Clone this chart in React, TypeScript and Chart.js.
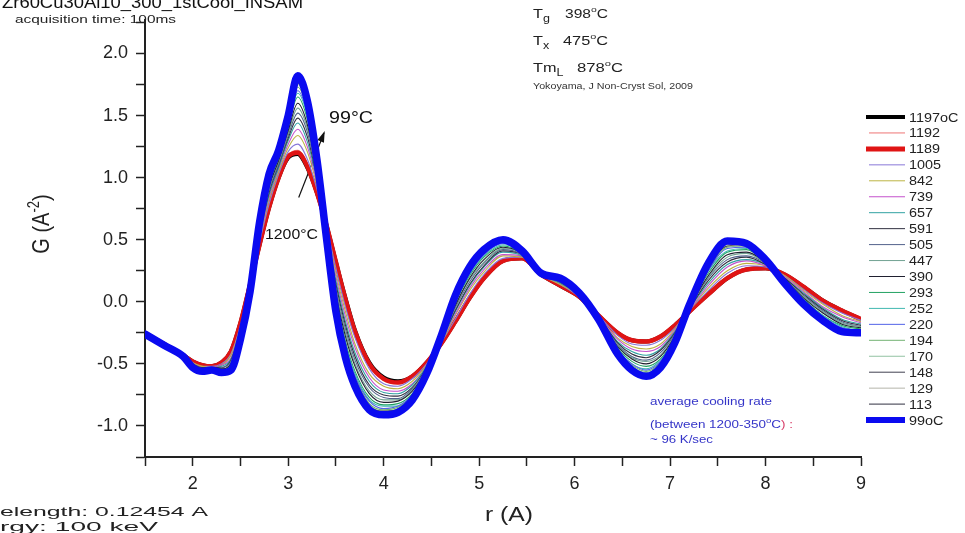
import React, { useEffect, useRef } from 'react';
import { Chart, registerables } from 'chart.js';

Chart.register(...registerables);

// r (Å) sample positions shared by every curve
const R = [1.5, 1.7, 1.9, 2.0, 2.1, 2.2, 2.3, 2.4, 2.5, 2.6, 2.7, 2.8, 2.9, 3.0, 3.1, 3.2, 3.3, 3.4, 3.5, 3.6, 3.7, 3.85, 4.0, 4.15, 4.3, 4.45, 4.6, 4.75, 4.9, 5.05, 5.25, 5.45, 5.65, 5.85, 6.05, 6.25, 6.45, 6.6, 6.75, 6.9, 7.05, 7.2, 7.4, 7.6, 7.8, 8.0, 8.2, 8.4, 8.6, 8.8, 9.0];

const G1197 = [-0.25,-0.34,-0.43,-0.48,-0.51,-0.52,-0.49,-0.40,-0.17,0.14, 0.46,0.76,1.00,1.16,1.19,1.08,0.88,0.62,0.32,0.03, -0.23,-0.49,-0.61,-0.64,-0.60,-0.49,-0.34,-0.16,0.03,0.19, 0.33,0.35,0.22,0.13,0.04,-0.11,-0.25,-0.31,-0.32,-0.28, -0.19,-0.08,0.06,0.19,0.26,0.27,0.22,0.12,0.01,-0.07,-0.14];
const G1192 = [-0.25,-0.34,-0.43,-0.48,-0.51,-0.52,-0.49,-0.40,-0.17,0.14, 0.47,0.77,1.01,1.18,1.22,1.11,0.89,0.62,0.31,0.01, -0.25,-0.51,-0.63,-0.66,-0.61,-0.49,-0.34,-0.15,0.04,0.20, 0.34,0.35,0.22,0.13,0.04,-0.11,-0.26,-0.32,-0.33,-0.29, -0.19,-0.08,0.07,0.20,0.27,0.27,0.22,0.12,0.01,-0.08,-0.14];
const G1189 = [-0.25,-0.34,-0.43,-0.48,-0.51,-0.52,-0.49,-0.40,-0.17,0.14, 0.46,0.76,1.00,1.17,1.20,1.09,0.88,0.62,0.32,0.02, -0.24,-0.50,-0.62,-0.65,-0.60,-0.49,-0.34,-0.16,0.03,0.19, 0.33,0.35,0.22,0.13,0.04,-0.11,-0.25,-0.31,-0.32,-0.28, -0.19,-0.08,0.06,0.19,0.26,0.27,0.22,0.12,0.01,-0.07,-0.14];
const G1005 = [-0.25,-0.34,-0.43,-0.49,-0.52,-0.52,-0.50,-0.42,-0.19,0.13, 0.48,0.79,1.03,1.21,1.27,1.15,0.91,0.61,0.27,-0.04, -0.29,-0.54,-0.66,-0.68,-0.62,-0.50,-0.33,-0.14,0.06,0.22, 0.35,0.36,0.22,0.14,0.04,-0.11,-0.27,-0.34,-0.35,-0.31, -0.21,-0.07,0.09,0.23,0.29,0.28,0.21,0.10,-0.01,-0.09,-0.15];
const G842 = [-0.25,-0.34,-0.43,-0.49,-0.52,-0.53,-0.51,-0.43,-0.20,0.13, 0.50,0.82,1.05,1.24,1.34,1.21,0.94,0.60,0.23,-0.08, -0.34,-0.58,-0.68,-0.70,-0.64,-0.51,-0.33,-0.11,0.09,0.24, 0.37,0.36,0.22,0.14,0.05,-0.12,-0.29,-0.36,-0.38,-0.34, -0.22,-0.07,0.11,0.25,0.31,0.29,0.21,0.09,-0.02,-0.11,-0.16];
const G739 = [-0.25,-0.34,-0.43,-0.50,-0.53,-0.53,-0.51,-0.45,-0.21,0.12, 0.51,0.84,1.07,1.27,1.39,1.25,0.96,0.59,0.20,-0.12, -0.37,-0.61,-0.71,-0.72,-0.66,-0.52,-0.32,-0.10,0.11,0.26, 0.38,0.37,0.22,0.15,0.05,-0.12,-0.30,-0.38,-0.40,-0.36, -0.23,-0.07,0.13,0.28,0.33,0.29,0.20,0.08,-0.04,-0.12,-0.17];
const G657 = [-0.25,-0.34,-0.43,-0.50,-0.53,-0.53,-0.52,-0.46,-0.22,0.12, 0.53,0.86,1.08,1.30,1.44,1.29,0.98,0.58,0.17,-0.16, -0.41,-0.64,-0.73,-0.74,-0.67,-0.52,-0.32,-0.08,0.13,0.28, 0.40,0.37,0.22,0.15,0.05,-0.12,-0.32,-0.40,-0.43,-0.38, -0.24,-0.06,0.15,0.30,0.34,0.30,0.19,0.07,-0.05,-0.14,-0.18];
const G591 = [-0.25,-0.34,-0.43,-0.50,-0.53,-0.53,-0.53,-0.47,-0.23,0.11, 0.54,0.88,1.10,1.32,1.48,1.33,1.00,0.58,0.14,-0.19, -0.44,-0.67,-0.75,-0.76,-0.69,-0.53,-0.31,-0.07,0.14,0.29, 0.41,0.38,0.22,0.16,0.05,-0.12,-0.33,-0.42,-0.45,-0.39, -0.25,-0.06,0.17,0.32,0.36,0.30,0.19,0.06,-0.06,-0.15,-0.19];
const G505 = [-0.26,-0.35,-0.44,-0.51,-0.54,-0.54,-0.53,-0.48,-0.24,0.11, 0.55,0.90,1.11,1.34,1.52,1.37,1.02,0.57,0.11,-0.22, -0.47,-0.69,-0.77,-0.78,-0.70,-0.54,-0.31,-0.05,0.16,0.31, 0.42,0.38,0.22,0.16,0.06,-0.13,-0.34,-0.44,-0.47,-0.41, -0.26,-0.05,0.19,0.34,0.37,0.31,0.18,0.05,-0.07,-0.16,-0.20];
const G447 = [-0.26,-0.35,-0.44,-0.51,-0.54,-0.54,-0.54,-0.49,-0.25,0.11, 0.56,0.92,1.13,1.36,1.56,1.40,1.04,0.56,0.09,-0.25, -0.50,-0.72,-0.79,-0.79,-0.71,-0.54,-0.31,-0.04,0.18,0.32, 0.43,0.39,0.22,0.17,0.06,-0.13,-0.35,-0.45,-0.48,-0.43, -0.27,-0.05,0.20,0.36,0.39,0.31,0.18,0.04,-0.08,-0.17,-0.20];
const G390 = [-0.26,-0.35,-0.44,-0.51,-0.54,-0.54,-0.54,-0.50,-0.25,0.10, 0.58,0.93,1.14,1.38,1.60,1.43,1.05,0.56,0.06,-0.28, -0.52,-0.74,-0.81,-0.80,-0.72,-0.55,-0.30,-0.03,0.19,0.34, 0.44,0.39,0.22,0.17,0.06,-0.13,-0.36,-0.46,-0.50,-0.44, -0.28,-0.05,0.21,0.38,0.40,0.32,0.18,0.03,-0.09,-0.18,-0.21];
const G293 = [-0.26,-0.35,-0.44,-0.52,-0.55,-0.54,-0.55,-0.51,-0.26,0.10, 0.59,0.95,1.16,1.41,1.65,1.47,1.07,0.55,0.03,-0.32, -0.56,-0.77,-0.83,-0.82,-0.74,-0.56,-0.30,-0.01,0.21,0.36, 0.45,0.39,0.22,0.17,0.06,-0.13,-0.37,-0.48,-0.52,-0.46, -0.29,-0.04,0.23,0.40,0.42,0.32,0.17,0.02,-0.11,-0.19,-0.22];
const G252 = [-0.26,-0.35,-0.44,-0.52,-0.55,-0.54,-0.55,-0.52,-0.27,0.09, 0.60,0.97,1.17,1.42,1.68,1.50,1.09,0.54,0.01,-0.34, -0.58,-0.79,-0.84,-0.84,-0.75,-0.56,-0.29,0.00,0.22,0.37, 0.46,0.40,0.22,0.18,0.06,-0.13,-0.38,-0.50,-0.54,-0.47, -0.30,-0.04,0.25,0.41,0.43,0.32,0.17,0.01,-0.11,-0.20,-0.23];
const G220 = [-0.26,-0.35,-0.44,-0.52,-0.55,-0.54,-0.56,-0.52,-0.28,0.09, 0.61,0.98,1.18,1.44,1.70,1.52,1.10,0.54,0.00,-0.36, -0.60,-0.80,-0.86,-0.84,-0.75,-0.56,-0.29,0.01,0.23,0.38, 0.47,0.40,0.22,0.18,0.06,-0.13,-0.39,-0.50,-0.55,-0.48, -0.30,-0.04,0.25,0.43,0.44,0.33,0.16,0.01,-0.12,-0.21,-0.23];
const G194 = [-0.26,-0.35,-0.44,-0.52,-0.55,-0.55,-0.56,-0.53,-0.28,0.09, 0.61,0.99,1.19,1.45,1.73,1.54,1.11,0.53,-0.02,-0.38, -0.61,-0.82,-0.87,-0.85,-0.76,-0.57,-0.29,0.02,0.24,0.39, 0.48,0.40,0.22,0.18,0.07,-0.14,-0.40,-0.51,-0.56,-0.49, -0.31,-0.04,0.26,0.44,0.45,0.33,0.16,0.00,-0.13,-0.22,-0.23];
const G170 = [-0.26,-0.35,-0.44,-0.52,-0.55,-0.55,-0.56,-0.53,-0.28,0.09, 0.62,1.00,1.19,1.46,1.75,1.56,1.12,0.53,-0.03,-0.39, -0.63,-0.83,-0.88,-0.86,-0.77,-0.57,-0.29,0.02,0.25,0.39, 0.48,0.40,0.22,0.18,0.07,-0.14,-0.40,-0.52,-0.57,-0.50, -0.31,-0.04,0.27,0.45,0.45,0.33,0.16,0.00,-0.13,-0.22,-0.24];
const G148 = [-0.26,-0.35,-0.44,-0.53,-0.55,-0.55,-0.56,-0.54,-0.29,0.09, 0.62,1.01,1.20,1.47,1.76,1.57,1.13,0.53,-0.04,-0.41, -0.64,-0.84,-0.88,-0.87,-0.77,-0.57,-0.29,0.03,0.26,0.40, 0.49,0.41,0.22,0.19,0.07,-0.14,-0.41,-0.53,-0.58,-0.51, -0.32,-0.03,0.28,0.45,0.46,0.33,0.16,-0.01,-0.14,-0.23,-0.24];
const G129 = [-0.26,-0.35,-0.44,-0.53,-0.56,-0.55,-0.57,-0.54,-0.29,0.08, 0.63,1.01,1.21,1.48,1.78,1.59,1.13,0.53,-0.06,-0.42, -0.65,-0.85,-0.89,-0.88,-0.78,-0.58,-0.28,0.04,0.27,0.41, 0.49,0.41,0.22,0.19,0.07,-0.14,-0.41,-0.54,-0.58,-0.52, -0.32,-0.03,0.29,0.46,0.46,0.34,0.15,-0.01,-0.14,-0.23,-0.24];
const G113 = [-0.26,-0.35,-0.44,-0.53,-0.56,-0.55,-0.57,-0.55,-0.30,0.08, 0.64,1.02,1.21,1.49,1.80,1.60,1.14,0.52,-0.07,-0.44, -0.67,-0.86,-0.90,-0.88,-0.78,-0.58,-0.28,0.04,0.27,0.41, 0.50,0.41,0.22,0.19,0.07,-0.14,-0.42,-0.54,-0.59,-0.52, -0.33,-0.03,0.30,0.48,0.46,0.34,0.15,-0.02,-0.15,-0.24,-0.25];
const G99 = [-0.26,-0.35,-0.44,-0.53,-0.56,-0.55,-0.57,-0.55,-0.30,0.08, 0.64,1.03,1.22,1.50,1.82,1.62,1.15,0.52,-0.08,-0.45, -0.68,-0.87,-0.91,-0.89,-0.79,-0.58,-0.28,0.05,0.28,0.42, 0.50,0.41,0.23,0.19,0.07,-0.14,-0.42,-0.55,-0.60,-0.53, -0.33,-0.03,0.31,0.49,0.47,0.34,0.15,-0.02,-0.15,-0.24,-0.25];

const SERIES_LABELS = ['1197oC', '1192', '1189', '1005', '842', '739', '657', '591', '505', '447', '390', '293', '252', '220', '194', '170', '148', '129', '113', '99oC'];
const SERIES_VALUES = [G1197, G1192, G1189, G1005, G842, G739, G657, G591, G505, G447, G390, G293, G252, G220, G194, G170, G148, G129, G113, G99];

const X_TICKS = [1.5, 2, 2.5, 3, 3.5, 4, 4.5, 5, 5.5, 6, 6.5, 7, 7.5, 8, 8.5, 9];
const X_TICK_LABELS = ['', '2', '', '3', '', '4', '', '5', '', '6', '', '7', '', '8', '', '9'];
const Y_TICKS = [-1.25, -1, -0.75, -0.5, -0.25, 0, 0.25, 0.5, 0.75, 1, 1.25, 1.5, 1.75, 2, 2.25];
const Y_TICK_LABELS = ['', '-1.0', '', '-0.5', '', '0.0', '', '0.5', '', '1.0', '', '1.5', '', '2.0', ''];

// ---- styles ----
const FONT = '"Liberation Sans", Arial, Helvetica, sans-serif';
const COLORS = ['#000000', '#ee7474', '#e01414', '#8878d8', '#bcb444', '#c452cc', '#30a2a2', '#303040', '#52628c', '#72a292', '#202030', '#22a262', '#40b8b0', '#5262e8', '#72b272', '#92c2a2', '#404050', '#b4b4aa', '#303040', '#0a0af0'];
const PLOT_WIDTHS = [4, 1.1, 4.5, 1.1, 1.1, 1.1, 1.1, 1.1, 1.1, 1.1, 1.1, 1.1, 1.1, 1.1, 1.1, 1.1, 1.1, 1.1, 1.1, 7.5];
const LEGEND_WIDTHS = [4, 1, 5, 1, 1, 1, 1, 1, 1, 1, 1, 1, 1, 1, 1, 1, 1, 1, 1, 6];

type Run = { t: string; size: number; dy?: number; color?: string };

function runsWidth(ctx: CanvasRenderingContext2D, runs: Run[]) {
  let w = 0;
  for (const r of runs) {
    ctx.font = `${r.size}px ${FONT}`;
    w += ctx.measureText(r.t).width;
  }
  return w;
}

function drawRuns(ctx: CanvasRenderingContext2D, runs: Run[], x: number, y: number, sx: number, color: string) {
  ctx.save();
  ctx.translate(x, y);
  ctx.scale(sx, 1);
  ctx.textAlign = 'left';
  ctx.textBaseline = 'alphabetic';
  let cx = 0;
  for (const r of runs) {
    ctx.font = `${r.size}px ${FONT}`;
    ctx.fillStyle = r.color || color;
    ctx.fillText(r.t, cx, r.dy || 0);
    cx += ctx.measureText(r.t).width;
  }
  ctx.restore();
}

function drawFit(ctx: CanvasRenderingContext2D, runs: Run[], x: number, y: number, width: number, color: string, align: 'left' | 'center' | 'right' = 'left') {
  const w = runsWidth(ctx, runs);
  const sx = width / w;
  const x0 = align === 'center' ? x - width / 2 : align === 'right' ? x - width : x;
  drawRuns(ctx, runs, x0, y, sx, color);
}

// text whose first letters are cut off by the left edge of the picture
function drawCutLeft(ctx: CanvasRenderingContext2D, full: string, hidden: string, visibleEnd: number, y: number, size: number, color: string) {
  ctx.font = `${size}px ${FONT}`;
  const wf = ctx.measureText(full).width;
  const wh = ctx.measureText(hidden).width;
  const sx = visibleEnd / (wf - wh);
  drawRuns(ctx, [{ t: full, size }], -wh * sx, y, sx, color);
}

const annotations = {
  id: 'annotations',
  beforeDraw(chart: any) {
    const ctx = chart.ctx;
    ctx.save();
    ctx.fillStyle = '#ffffff';
    ctx.fillRect(0, 0, chart.width, chart.height);
    ctx.restore();
  },
  beforeDatasetsDraw(chart: any) {
    const ctx: CanvasRenderingContext2D = chart.ctx;
    const xs = chart.scales.x;
    const ys = chart.scales.y;
    // arrow from 1200°C towards 99°C
    const x0 = xs.getPixelForValue(3.11), y0 = ys.getPixelForValue(0.84);
    const x1 = xs.getPixelForValue(3.375), y1 = ys.getPixelForValue(1.36);
    ctx.save();
    ctx.strokeStyle = '#111';
    ctx.fillStyle = '#111';
    ctx.lineWidth = 1.2;
    ctx.beginPath();
    ctx.moveTo(x0, y0);
    ctx.lineTo(x1, y1);
    ctx.stroke();
    const a = Math.atan2(y1 - y0, x1 - x0);
    const L = 9, W = 3.5;
    ctx.beginPath();
    ctx.moveTo(x1 + 2 * Math.cos(a), y1 + 2 * Math.sin(a));
    ctx.lineTo(x1 - L * Math.cos(a) + W * Math.sin(a), y1 - L * Math.sin(a) - W * Math.cos(a));
    ctx.lineTo(x1 - L * Math.cos(a) - W * Math.sin(a), y1 - L * Math.sin(a) + W * Math.cos(a));
    ctx.closePath();
    ctx.fill();
    ctx.restore();
  },
  afterDraw(chart: any) {
    const ctx: CanvasRenderingContext2D = chart.ctx;
    ctx.save();
    // header notes
    drawFit(ctx, [{ t: 'Zr60Cu30Al10_300_1stCool_INSAM', size: 16 }], 2, 8, 301, '#111');
    drawFit(ctx, [{ t: 'acquisition time: 100ms', size: 11 }], 15, 23, 161, '#222');

    // transition temperatures
    drawRuns(ctx, [{ t: 'T', size: 13 }, { t: 'g', size: 10, dy: 4 }], 533, 18, 1.25, '#222');
    drawFit(ctx, [{ t: '398', size: 12 }, { t: 'o', size: 8, dy: -6 }, { t: 'C', size: 12 }], 565, 18, 43, '#222');
    drawRuns(ctx, [{ t: 'T', size: 13 }, { t: 'x', size: 10, dy: 4 }], 533, 45, 1.25, '#222');
    drawFit(ctx, [{ t: '475', size: 12 }, { t: 'o', size: 8, dy: -6 }, { t: 'C', size: 12 }], 563, 45, 45, '#222');
    drawRuns(ctx, [{ t: 'Tm', size: 13 }, { t: 'L', size: 10, dy: 4 }], 533, 72, 1.25, '#222');
    drawFit(ctx, [{ t: '878', size: 12 }, { t: 'o', size: 8, dy: -6 }, { t: 'C', size: 12 }], 577, 72, 46, '#222');
    drawFit(ctx, [{ t: 'Yokoyama, J Non-Cryst Sol, 2009', size: 8.5 }], 533, 89, 160, '#333');

    // curve annotations
    drawFit(ctx, [{ t: '99°C', size: 16 }], 329, 123, 44, '#111');
    drawFit(ctx, [{ t: '1200°C', size: 14 }], 265, 239, 53, '#111');

    // cooling rate
    const blue = '#3535c8';
    drawFit(ctx, [{ t: 'average cooling rate', size: 10.5 }], 650, 405, 122, blue);
    drawFit(ctx, [{ t: '(between 1200-350', size: 10.5 }, { t: 'o', size: 7.5, dy: -5 }, { t: 'C', size: 10.5 }, { t: ') :', size: 10.5, color: '#d8406a' }], 650, 428, 143, blue);
    drawFit(ctx, [{ t: '~ 96 K/sec', size: 10.5 }], 650, 443, 63, blue);

    // beam notes, cut by the left edge
    drawCutLeft(ctx, 'Wavelength: 0.12454 A', 'Wav', 208, 516, 13, '#222');
    drawCutLeft(ctx, 'Energy: 100 keV', 'Ene', 158, 531, 13, '#222');

    // axis titles
    drawFit(ctx, [{ t: 'r (A)', size: 20 }], 509, 521, 48, '#222', 'center');
    ctx.save();
    ctx.translate(49, 224);
    ctx.rotate(-Math.PI / 2);
    ctx.scale(1, 1.2);
    const yRuns: Run[] = [{ t: 'G (A', size: 20 }, { t: '-2', size: 13, dy: -8 }, { t: ')', size: 20 }];
    const yw = runsWidth(ctx, yRuns);
    drawRuns(ctx, yRuns, -yw / 2, 0, 1, '#222');
    ctx.restore();

    // legend
    const ds = chart.data.datasets;
    for (let i = 0; i < ds.length; i++) {
      const y = 117 + i * 15.95;
      const lw = LEGEND_WIDTHS[i];
      ctx.beginPath();
      ctx.strokeStyle = ds[i].borderColor;
      ctx.lineWidth = lw;
      ctx.lineCap = 'butt';
      ctx.moveTo(lw > 1 ? 866 : 869, y);
      ctx.lineTo(905, y);
      ctx.stroke();
      drawRuns(ctx, [{ t: String(ds[i].label), size: 12 }], 909, y + 4.5, 1.2, '#222');
    }
    ctx.restore();
  },
};

export default function App() {
  const ref = useRef<HTMLCanvasElement>(null);

  useEffect(() => {
    const canvas = ref.current;
    if (!canvas) return;
    const datasets = SERIES_VALUES.map((vals, i) => ({
      label: SERIES_LABELS[i],
      data: R.map((r, k) => ({ x: r, y: vals[k] })),
      borderColor: COLORS[i],
      backgroundColor: COLORS[i],
      borderWidth: PLOT_WIDTHS[i],
      pointRadius: 0,
      pointHoverRadius: 0,
      fill: false,
      cubicInterpolationMode: 'monotone' as const,
      borderJoinStyle: 'round' as const,
      borderCapStyle: 'round' as const,
      order: SERIES_VALUES.length - i,
    }));

    const tickFont = { family: FONT, size: 18 };
    const chart = new Chart(canvas, {
      type: 'line',
      data: { datasets },
      plugins: [annotations],
      options: {
        responsive: false,
        maintainAspectRatio: false,
        devicePixelRatio: 1,
        animation: false,
        events: [],
        layout: { padding: { left: 0, right: 104, top: 20, bottom: 0 } },
        plugins: {
          legend: { display: false },
          tooltip: { enabled: false },
          title: { display: false },
        },
        scales: {
          x: {
            type: 'linear',
            min: 1.5,
            max: 9,
            afterBuildTicks: (scale: any) => {
              scale.ticks = X_TICKS.map((v) => ({ value: v }));
            },
            afterFit: (scale: any) => {
              scale.height = 76;
              scale.paddingLeft = 0;
              scale.paddingRight = 0;
            },
            grid: { drawOnChartArea: false, drawTicks: true, tickLength: 9, tickColor: '#222', tickWidth: 1.5 },
            border: { display: true, color: '#222', width: 2 },
            ticks: {
              autoSkip: false,
              maxRotation: 0,
              padding: 7,
              color: '#222',
              font: tickFont,
              callback: (_v: any, idx: number) => X_TICK_LABELS[idx] ?? '',
            },
          },
          y: {
            type: 'linear',
            min: -1.25,
            max: 2.27,
            afterBuildTicks: (scale: any) => {
              scale.ticks = Y_TICKS.map((v) => ({ value: v }));
            },
            afterFit: (scale: any) => {
              scale.width = 145;
              scale.paddingTop = 0;
              scale.paddingBottom = 0;
            },
            grid: { drawOnChartArea: false, drawTicks: true, tickLength: 9, tickColor: '#222', tickWidth: 1.5 },
            border: { display: true, color: '#222', width: 2 },
            ticks: {
              autoSkip: false,
              padding: 8,
              color: '#222',
              font: tickFont,
              callback: (_v: any, idx: number) => Y_TICK_LABELS[idx] ?? '',
            },
          },
        },
      },
    });
    return () => chart.destroy();
  }, []);

  return (
    <div style={{ position: 'fixed', left: 0, top: 0, width: 965, height: 533, background: '#fff', overflow: 'hidden' }}>
      <canvas ref={ref} width={965} height={533} style={{ display: 'block', width: 965, height: 533 }} />
    </div>
  );
}
